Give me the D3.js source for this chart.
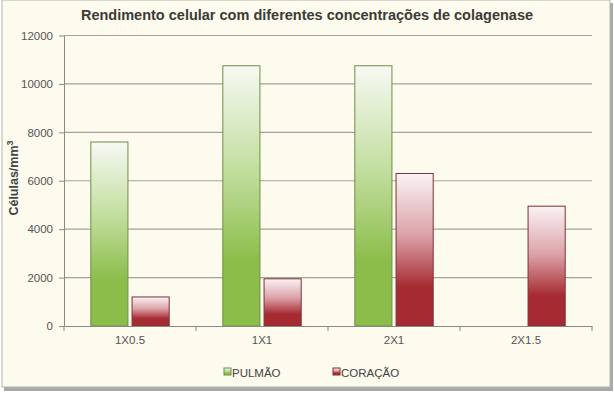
<!DOCTYPE html>
<html><head><meta charset="utf-8">
<script src="https://cdn.jsdelivr.net/npm/d3@7"></script>
<style>body{margin:0;background:#fff;}svg{display:block;font-family:"Liberation Sans",Arial,sans-serif;}</style>
</head><body>
<svg id="c" width="614" height="393"></svg>
<script>
const categories = ["1X0.5","1X1","2X1","2X1.5"];
const series = ["PULMÃO","CORAÇÃO"];
const pulmao = [7600,10750,10750,0];
const coracao = [1200,1950,6300,4950];
const yTicks = [0,2000,4000,6000,8000,10000,12000];

const svg = d3.select("#c");
// frame with shadow
svg.append("rect").attr("x",4).attr("y",3).attr("width",609).attr("height",388).attr("fill","#a9a9a9");
svg.append("rect").attr("x",2).attr("y",0).attr("width",608).attr("height",387).attr("fill","#fdfaee").attr("stroke","#b5b5b0").attr("stroke-width",1);

const defs = svg.append("defs");
function grad(id, top, mid, bot){
  const g = defs.append("linearGradient").attr("id",id).attr("x1",0).attr("y1",0).attr("x2",0).attr("y2",1);
  g.append("stop").attr("offset","0%").attr("stop-color",top);
  g.append("stop").attr("offset","40%").attr("stop-color",mid);
  g.append("stop").attr("offset","75%").attr("stop-color",bot);
  g.append("stop").attr("offset","100%").attr("stop-color",bot);
}
grad("gG","#f7f9f4","#c2de9e","#8cbd4b");
grad("gR","#faf3f5","#dca3a9","#a52a31");
const fills = {"PULMÃO":"url(#gG)","CORAÇÃO":"url(#gR)"};
const strokes = {"PULMÃO":"#6f8f46","CORAÇÃO":"#7d3034"};

const m = {l:64,r:592,t:35.5,b:326};
const y = d3.scaleLinear().domain([0,12000]).range([m.b,m.t]);
const x0 = d3.scaleBand().domain(categories).range([m.l,m.r]).paddingInner(0).paddingOuter(0);
const x1 = d3.scaleBand().domain(series).range([0,x0.bandwidth()]).paddingInner(0.1).paddingOuter(0.65);

// gridlines
svg.append("g").selectAll("line").data(yTicks.filter(d=>d>0)).join("line")
  .attr("x1",m.l).attr("x2",m.r).attr("y1",d=>y(d)).attr("y2",d=>y(d))
  .attr("stroke","#a3a39b").attr("stroke-width",1.2);

// bars
const data = categories.map((c,i)=>({c, vals:[{s:"PULMÃO",v:pulmao[i]},{s:"CORAÇÃO",v:coracao[i]}]}));
const g = svg.append("g").selectAll("g").data(data).join("g").attr("transform",d=>`translate(${x0(d.c)},0)`);
g.selectAll("rect").data(d=>d.vals.filter(v=>v.v>0)).join("rect")
  .attr("x",d=>x1(d.s)).attr("width",x1.bandwidth())
  .attr("y",d=>y(d.v)).attr("height",d=>y(0)-y(d.v))
  .attr("fill",d=>fills[d.s]).attr("stroke",d=>strokes[d.s]).attr("stroke-width",1);

// y axis
const ya = svg.append("g").attr("transform",`translate(${m.l},0)`)
  .call(d3.axisLeft(y).tickValues(yTicks).tickSize(5).tickSizeOuter(0).tickPadding(6).tickFormat(d3.format("d")));
ya.select(".domain").attr("stroke","#8a8a85");
ya.selectAll(".tick line").attr("stroke","#8a8a85");
ya.selectAll("text").attr("fill","#555").attr("font-size","11.5px").attr("font-family","Liberation Sans, Arial, sans-serif");

// x axis
const xa = svg.append("g").attr("transform",`translate(0,${m.b})`)
  .call(d3.axisBottom(x0).tickSize(0).tickPadding(10));
xa.select(".domain").attr("stroke","#8a8a85");
xa.selectAll("text").attr("fill","#555").attr("font-size","11.5px").attr("font-family","Liberation Sans, Arial, sans-serif");
// category separator ticks
svg.append("g").selectAll("line").data(categories.map(c=>x0(c)).concat([m.r])).join("line")
  .attr("x1",d=>d).attr("x2",d=>d).attr("y1",m.b).attr("y2",m.b+5).attr("stroke","#8a8a85");

// title
svg.append("text").attr("x",307).attr("y",20).attr("text-anchor","middle")
  .attr("font-size","14.5px").attr("font-weight","bold").attr("fill","#3b3b35")
  .text("Rendimento celular com diferentes concentrações de colagenase");

// y label
svg.append("text").attr("transform","translate(18,178) rotate(-90)").attr("text-anchor","middle")
  .attr("font-size","12.5px").attr("font-weight","bold").attr("fill","#444")
  .html('Células/mm<tspan dy="-5" font-size="9px">3</tspan>');

// legend
const legX = {"PULMÃO":224,"CORAÇÃO":333};
const lg = svg.append("g").selectAll("g").data(series).join("g").attr("transform",d=>`translate(${legX[d]},368)`);
lg.append("rect").attr("width",7).attr("height",7).attr("fill",d=>fills[d]).attr("stroke",d=>strokes[d]);
lg.append("text").attr("x",8).attr("y",8.5).attr("font-size","11.5px").attr("fill","#444").text(d=>d);
</script>
</body></html>
